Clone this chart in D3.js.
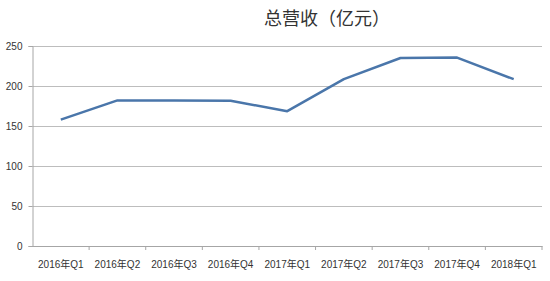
<!DOCTYPE html>
<html>
<head>
<meta charset="utf-8">
<script src="https://cdn.jsdelivr.net/npm/d3@7"></script>
<style>
  body { margin: 0; background: #fff; }
  text { font-family: "Liberation Sans", "Noto Sans CJK SC", sans-serif; fill: #333; }
</style>
</head>
<body>
<script>
// Chart data
var quarters = ["2016年Q1", "2016年Q2", "2016年Q3", "2016年Q4", "2017年Q1", "2017年Q2", "2017年Q3", "2017年Q4", "2018年Q1"];
var revenue = [158, 182, 182, 181.5, 168.5, 208.5, 235, 235.5, 208.5];
var yTicks = [0, 50, 100, 150, 200, 250];
var title = "总营收（亿元）";

var margin = {top: 46, right: 8, bottom: 35, left: 32.5},
    width = 550 - margin.left - margin.right,
    height = 281 - margin.top - margin.bottom;

var svg = d3.select("body").append("svg")
    .attr("width", 550)
    .attr("height", 281)
    .append("g")
    .attr("transform", "translate(" + margin.left + "," + margin.top + ")");

var x = d3.scaleBand()
    .domain(quarters)
    .range([0, width]);

var y = d3.scaleLinear()
    .domain([0, 250])
    .range([height, 0]);

// Gridlines
svg.selectAll(".grid")
    .data(yTicks.filter(d => d > 0))
    .enter().append("line")
    .attr("x1", 0)
    .attr("x2", width)
    .attr("y1", d => Math.round(y(d)) + 0.5)
    .attr("y2", d => Math.round(y(d)) + 0.5)
    .attr("stroke", "#bdbdbd")
    .attr("stroke-width", 1);

// Y axis
var yAxis = svg.append("g")
    .call(d3.axisLeft(y).tickValues(yTicks).tickSize(4).tickPadding(6));
yAxis.select(".domain").attr("stroke", "#a6a6a6");
yAxis.selectAll(".tick line").attr("stroke", "#a6a6a6");
yAxis.selectAll(".tick text").style("font-size", "10px").attr("x", -10);

// X axis
var xAxis = svg.append("g")
    .attr("transform", "translate(0," + height + ")")
    .call(d3.axisBottom(x).tickSize(0).tickPadding(15));
xAxis.select(".domain").attr("stroke", "#a6a6a6");
xAxis.selectAll(".tick text").style("font-size", "10px");

// Category boundary ticks
svg.selectAll(".bound")
    .data(quarters.slice(1).concat([null]))
    .enter().append("line")
    .attr("x1", (d, i) => x.step() * (i + 1))
    .attr("x2", (d, i) => x.step() * (i + 1))
    .attr("y1", height)
    .attr("y2", height + 4)
    .attr("stroke", "#a6a6a6");

// The line
var line = d3.line()
    .x((d, i) => x(quarters[i]) + x.bandwidth() / 2)
    .y(d => y(d));

svg.append("path")
    .datum(revenue)
    .attr("fill", "none")
    .attr("stroke", "#4a76aa")
    .attr("stroke-width", 2.5)
    .attr("stroke-linejoin", "round")
    .attr("d", line);

// Title
svg.append("text")
    .attr("x", 327 - margin.left)
    .attr("y", 25 - margin.top)
    .style("text-anchor", "middle")
    .style("font-size", "18px")
    .style("font-family", "'Noto Sans CJK SC', sans-serif")
    .text(title);
</script>
</body>
</html>
